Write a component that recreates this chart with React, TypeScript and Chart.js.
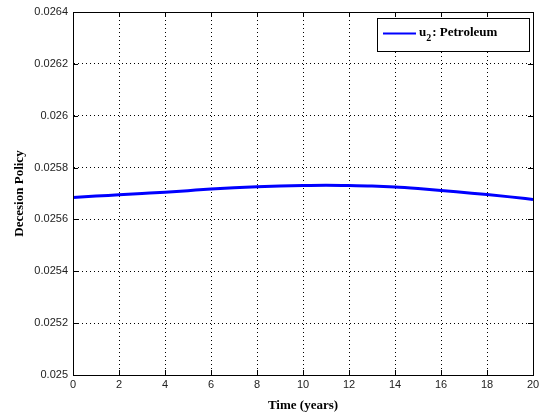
import React, { useEffect, useRef } from "react";
import { Chart, registerables } from "chart.js";

Chart.register(...registerables);

const timeYears = [0, 1, 2, 3, 4, 5, 6, 7, 8, 9, 10, 11, 12, 13, 14, 15, 16, 17, 18, 19, 20];
const petroleum = [
  0.025685, 0.02569, 0.025695, 0.0257, 0.025705, 0.025711, 0.025717, 0.025722, 0.025726, 0.025729,
  0.025731, 0.025732, 0.025731, 0.025729, 0.025725, 0.025719, 0.025712, 0.025704, 0.025696, 0.025687,
  0.025677,
];
const xTicks = [0, 2, 4, 6, 8, 10, 12, 14, 16, 18, 20];
const yTicks = [0.025, 0.0252, 0.0254, 0.0256, 0.0258, 0.026, 0.0262, 0.0264];
const seriesLabel = "u₂: Petroleum";
const xTitle = "Time (years)";
const yTitle = "Decesion Policy";

const boxPlugin = {
  id: "boxPlugin",
  afterDraw(chart: any) {
    const { ctx, chartArea } = chart;
    const { left, right, top, bottom } = chartArea;
    const xs = chart.scales.x;
    const ys = chart.scales.y;
    ctx.save();
    ctx.strokeStyle = "#000";
    ctx.lineWidth = 1;
    ctx.setLineDash([]);
    ctx.beginPath();
    ctx.rect(Math.round(left) + 0.5, Math.round(top) + 0.5, Math.round(right - left), Math.round(bottom - top));
    ctx.stroke();
    const tl = 5;
    ctx.beginPath();
    xTicks.forEach((v) => {
      const px = Math.round(xs.getPixelForValue(v)) + 0.5;
      ctx.moveTo(px, bottom);
      ctx.lineTo(px, bottom - tl);
      ctx.moveTo(px, top);
      ctx.lineTo(px, top + tl);
    });
    yTicks.forEach((v) => {
      const py = Math.round(ys.getPixelForValue(v)) + 0.5;
      ctx.moveTo(left, py);
      ctx.lineTo(left + tl, py);
      ctx.moveTo(right, py);
      ctx.lineTo(right - tl, py);
    });
    ctx.stroke();
    // legend box
    const bx = 377.5, by = 18.5, bw = 152, bh = 33;
    ctx.fillStyle = "#fff";
    ctx.fillRect(bx, by, bw, bh);
    ctx.strokeRect(bx, by, bw, bh);
    ctx.strokeStyle = "#0000ff";
    ctx.lineWidth = 2;
    ctx.beginPath();
    ctx.moveTo(383, 33.5);
    ctx.lineTo(416, 33.5);
    ctx.stroke();
    ctx.fillStyle = "#000";
    ctx.font = "bold 13px 'Liberation Serif'";
    ctx.textBaseline = "alphabetic";
    ctx.textAlign = "left";
    ctx.fillText("u", 419, 36);
    const uw = ctx.measureText("u").width;
    ctx.font = "bold 10px 'Liberation Serif'";
    ctx.fillText("2", 419 + uw, 41);
    const sw = ctx.measureText("2").width;
    ctx.font = "bold 13px 'Liberation Serif'";
    ctx.fillText(": Petroleum", 419 + uw + sw + 1, 36);
    ctx.restore();
  },
};

export default function App() {
  const ref = useRef<HTMLCanvasElement>(null);
  useEffect(() => {
    if (!ref.current) return;
    const chart = new Chart(ref.current, {
      type: "line",
      data: {
        labels: timeYears,
        datasets: [
          {
            label: seriesLabel,
            data: timeYears.map((t, i) => ({ x: t, y: petroleum[i] })),
            borderColor: "#0000ff",
            borderWidth: 3,
            pointRadius: 0,
            fill: false,
            cubicInterpolationMode: "monotone",
          },
        ],
      },
      options: {
        responsive: false,
        animation: false,
        layout: { padding: { left: 0, right: 8, top: 12, bottom: 0 } },
        plugins: { legend: { display: false }, tooltip: { enabled: false } },
        scales: {
          x: {
            type: "linear",
            min: 0,
            max: 20,
            afterBuildTicks: (s: any) => {
              s.ticks = xTicks.map((v) => ({ value: v }));
            },
            afterFit: (s: any) => {
              s.height = 44;
              s.paddingRight = 0;
              s.paddingLeft = 0;
            },
            grid: { color: "#000", lineWidth: 1, drawTicks: false },
            border: { display: true, color: "#000", dash: [1, 3] },
            ticks: {
              padding: 3,
              color: "#222",
              font: { family: "'Liberation Sans'", size: 11 },
              maxRotation: 0,
              callback: (v: any) => String(v),
            },
            title: {
              display: true,
              text: xTitle,
              color: "#000",
              font: { family: "'Liberation Serif'", size: 13, weight: "bold" },
              padding: { top: 4, bottom: 6 },
            },
          },
          y: {
            type: "linear",
            min: 0.025,
            max: 0.0264,
            afterBuildTicks: (s: any) => {
              s.ticks = yTicks.map((v) => ({ value: v }));
            },
            afterFit: (s: any) => {
              s.width = 73;
              s.paddingTop = 0;
              s.paddingBottom = 0;
            },
            grid: { color: "#000", lineWidth: 1, drawTicks: false },
            border: { display: true, color: "#000", dash: [1, 3] },
            ticks: {
              padding: 5,
              color: "#222",
              font: { family: "'Liberation Sans'", size: 11 },
              callback: (v: any) => String(parseFloat(Number(v).toFixed(4))),
            },
            title: {
              display: true,
              text: yTitle,
              color: "#000",
              font: { family: "'Liberation Serif'", size: 13, weight: "bold" },
              padding: { top: 12, bottom: 6 },
            },
          },
        },
      },
      plugins: [boxPlugin],
    } as any);
    return () => chart.destroy();
  }, []);
  return (
    <div style={{ position: "fixed", left: 0, top: 0, width: 541, height: 419, background: "#fff" }}>
      <canvas ref={ref} width={541} height={419} style={{ width: 541, height: 419 }} />
    </div>
  );
}
